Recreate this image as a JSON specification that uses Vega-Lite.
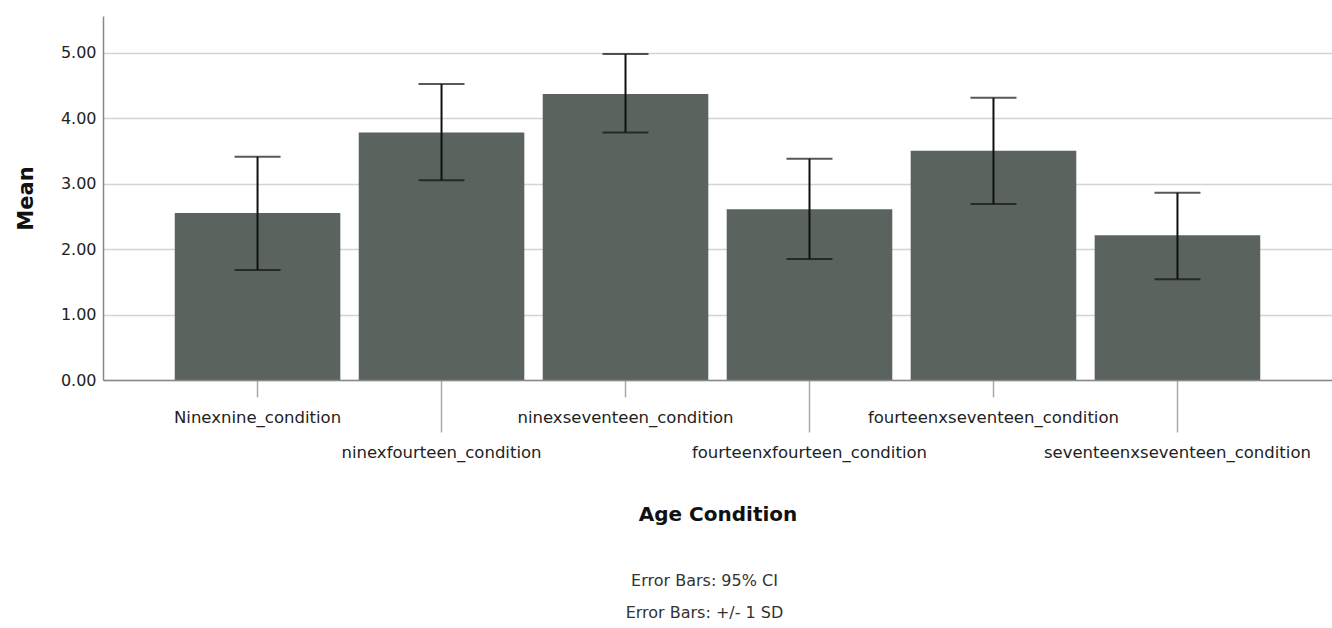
{
  "$schema": "https://vega.github.io/schema/vega-lite/v6.json",
  "width": 1229,
  "height": 364,
  "autosize": {"type": "none"},
  "padding": {"left": 103, "top": 16, "right": 0, "bottom": 248},
  "background": "white",
  "config": {"font": "DejaVu Sans", "view": {"stroke": null}},
  "title": {
    "text": ["Error Bars: 95% CI", "Error Bars: +/- 1 SD"],
    "orient": "bottom",
    "anchor": "middle",
    "fontSize": 16,
    "fontWeight": "normal",
    "color": "#333",
    "lineHeight": 32,
    "offset": 49,
    "dx": -13
  },
  "data": {
    "values": [
      {"cond": "Ninexnine_condition", "mean": 2.55, "lower": 1.68, "upper": 3.41},
      {"cond": "ninexfourteen_condition", "mean": 3.78, "lower": 3.05, "upper": 4.52},
      {"cond": "ninexseventeen_condition", "mean": 4.37, "lower": 3.78, "upper": 4.98},
      {"cond": "fourteenxfourteen_condition", "mean": 2.61, "lower": 1.85, "upper": 3.38},
      {"cond": "fourteenxseventeen_condition", "mean": 3.5, "lower": 2.69, "upper": 4.31},
      {"cond": "seventeenxseventeen_condition", "mean": 2.21, "lower": 1.54, "upper": 2.86}
    ]
  },
  "encoding": {
    "x": {
      "field": "cond",
      "type": "nominal",
      "sort": null,
      "scale": {"paddingInner": 0.1, "paddingOuter": 0.39},
      "axis": {
        "title": "Age Condition",
        "titleFontSize": 20,
        "titleFontWeight": "bold",
        "titleColor": "#111",
        "titleY": 134,
        "titleBaseline": "middle",
        "labelAngle": 0,
        "labelFontSize": 16.5,
        "labelColor": "#222",
        "labelBaseline": "alphabetic",
        "labelPadding": 25,
        "labelLimit": 500,
        "labelOverlap": false,
        "tickSize": {"condition": {"test": "indexof(domain('x'), datum.value) % 2 == 1", "value": 52}, "value": 17},
        "tickColor": "#aaa",
        "tickWidth": 1.5,
        "domainColor": "#888",
        "domainWidth": 1.5,
        "grid": false,
        "zindex": 1
      }
    }
  },
  "layer": [
    {
      "mark": {"type": "bar", "color": "#5a635e"},
      "encoding": {
        "y": {
          "field": "mean",
          "type": "quantitative",
          "scale": {"domain": [0, 5.56], "nice": false},
          "axis": {
            "title": "Mean",
            "titleFontSize": 21,
            "titleFontWeight": "bold",
            "titleColor": "#111",
            "titleX": -71,
            "titleBaseline": "alphabetic",
            "values": [0, 1, 2, 3, 4, 5],
            "format": ".2f",
            "labelFontSize": 16,
            "labelColor": "#222",
            "labelPadding": 7,
            "ticks": false,
            "domainColor": "#888",
            "domainWidth": 1.5,
            "grid": true,
            "gridColor": "#d4d4d4",
            "gridWidth": 1.5
          }
        }
      }
    },
    {
      "mark": {"type": "rule", "color": "#111", "strokeWidth": 2},
      "encoding": {
        "y": {"field": "lower", "type": "quantitative"},
        "y2": {"field": "upper"}
      }
    },
    {
      "mark": {"type": "tick", "color": "#111", "size": 46, "thickness": 2},
      "encoding": {"y": {"field": "upper", "type": "quantitative"}}
    },
    {
      "mark": {"type": "tick", "color": "#111", "size": 46, "thickness": 2},
      "encoding": {"y": {"field": "lower", "type": "quantitative"}}
    }
  ]
}
